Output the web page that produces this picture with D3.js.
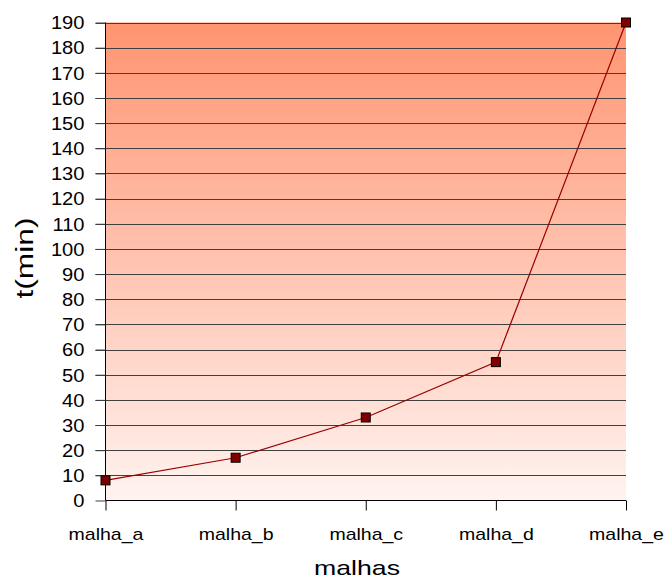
<!DOCTYPE html>
<html><head><meta charset="utf-8">
<script src="https://cdn.jsdelivr.net/npm/d3@7"></script>
<style>body{margin:0;background:#fff}</style>
</head><body><svg id="c" width="666" height="580"></svg>
<script>
const categories = ["malha_a","malha_b","malha_c","malha_d","malha_e"];
const values = [8, 17, 33, 55, 190];
const yTicks = d3.range(0, 200, 10);
const xTitle = "malhas", yTitle = "t(min)";

const FONT = "Arial, 'Liberation Sans', sans-serif";
const svg = d3.select("#c");
const L = 105.5, R = 626, T = 22.5, B = 500.5;
const x = d3.scalePoint().domain(categories).range([L, R]);
const y = d3.scaleLinear().domain([0, 190]).range([B, T]);

const defs = svg.append("defs");
const g = defs.append("linearGradient").attr("id","bg").attr("x1",0).attr("y1",0).attr("x2",0).attr("y2",1);
g.append("stop").attr("offset","0%").attr("stop-color","#FF9470");
g.append("stop").attr("offset","100%").attr("stop-color","#FFF3F0");
svg.append("rect").attr("x",L).attr("y",T).attr("width",R-L).attr("height",B-T).attr("fill","url(#bg)");

// gridlines with left tick extensions
svg.append("g").selectAll("line").data(yTicks.filter(d=>d>0)).join("line")
  .attr("x1",L-10).attr("x2",R).attr("y1",d=>Math.round(y(d))+0.5).attr("y2",d=>Math.round(y(d))+0.5)
  .attr("stroke","#404040").attr("stroke-width",1);

const yAxis = d3.axisLeft(y).tickValues(yTicks).tickSize(10);
const ya = svg.append("g").attr("transform",`translate(${L},0)`).call(yAxis);
ya.select(".domain").attr("stroke","#000").attr("d",`M0,${T}V${B}`);
ya.selectAll(".tick line").attr("stroke","#404040");
ya.selectAll("text").attr("x",0).attr("dy","0.36em")
  .attr("transform","translate(-21,0) scale(1.15,1)")
  .attr("font-family",FONT).attr("font-size","17.5px").attr("fill","#000");

const xAxis = d3.axisBottom(x).tickSize(10);
const xa = svg.append("g").attr("transform",`translate(0,${B})`).call(xAxis);
xa.select(".domain").attr("stroke","#000").attr("d",`M${L},0H${R}`);
xa.selectAll(".tick line").attr("stroke","#000");
xa.selectAll("text").attr("y",0).attr("dy",0)
  .attr("transform","translate(0,39) scale(1.22,1)")
  .attr("font-family",FONT).attr("font-size","16px").attr("fill","#000");

const line = d3.line().x((d,i)=>x(categories[i])).y(d=>y(d));
svg.append("path").datum(values).attr("d",line).attr("fill","none").attr("stroke","#990000").attr("stroke-width",1.2);

svg.append("g").selectAll("rect").data(values).join("rect")
  .attr("x",(d,i)=>x(categories[i])-4.5).attr("y",d=>y(d)-4.5).attr("width",9).attr("height",9)
  .attr("fill","#800000").attr("stroke","#000").attr("stroke-width",1);

svg.append("text").attr("transform","translate(357,575) scale(1.27,1)").attr("text-anchor","middle")
  .attr("font-family",FONT).attr("font-size","21px").text(xTitle);
svg.append("text").attr("transform","translate(33,258) rotate(-90) scale(1.38,1)").attr("text-anchor","middle")
  .attr("font-family",FONT).attr("font-size","23px").text(yTitle);
</script></body></html>
